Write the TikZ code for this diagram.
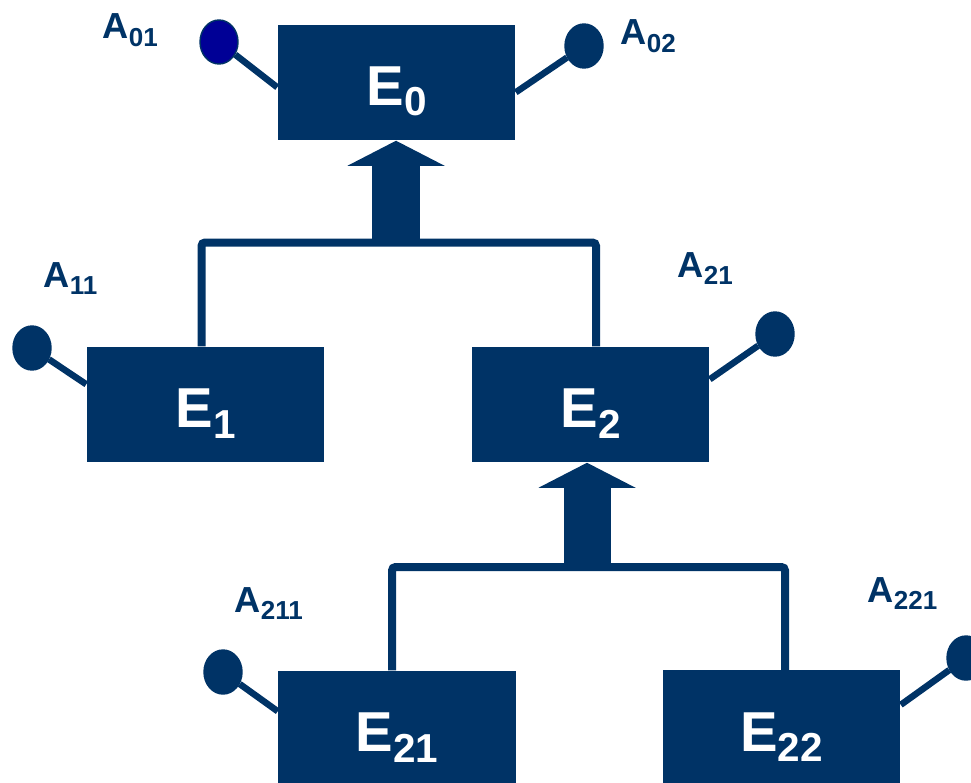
\documentclass[tikz,border=0pt]{standalone}
\usepackage{fontspec}
\setmainfont{Liberation Sans}
\usepackage{tikz}
\usetikzlibrary{arrows.meta, positioning, shapes.geometric}
\definecolor{entityblue}{RGB}{0,51,102}
\definecolor{keyblue}{RGB}{0,0,150}
% lowered indices for entity and attribute names
\newcommand{\entsub}[1]{\raisebox{-2.85pt}{\fontsize{11.5}{12}\selectfont #1}}
\newcommand{\attsub}[1]{\raisebox{-2.2pt}{\fontsize{7.4}{8}\selectfont #1}}

\begin{document}
\begin{tikzpicture}[
        x=0.01cm, y=-0.01cm,
        entity/.style={rectangle, fill=entityblue, minimum width=2.37cm, minimum height=1.15cm, inner sep=0pt, text=white, font=\fontsize{16}{18}\selectfont\bfseries, text height=16.2pt, text depth=2.85pt},
        attr/.style={ellipse, fill=entityblue, draw=entityblue, thin, minimum width=0.38cm, minimum height=0.44cm, inner sep=0pt},
        attrname/.style={anchor=base west, inner sep=0pt, text=entityblue, font=\fontsize{10.3}{12}\selectfont\bfseries},
        stem/.style={draw=entityblue, line width=0.065cm},
        link/.style={draw=entityblue, line width=0.08cm, rounded corners=1pt},
        lift/.style={draw=entityblue, line width=0.47cm, -{Triangle[length=0.25cm, width=0.96cm]}}
    ]
        \useasboundingbox (0,0) rectangle (971,782);
        \clip (0,0) rectangle (971,782);

        % entities
        \node [entity] (e0) at (396.5,82.5) {E\entsub{0}};
        \node [entity] (e1) at (205.5,404.5) {E\entsub{1}};
        \node [entity] (e2) at (590.5,404.5) {E\entsub{2}};
        \node [entity] (e21) at (397,728.5) {E\entsub{21}};
        \node [entity] (e22) at (781.5,728) {E\entsub{22}};

        % attributes
        \node [attr, fill=keyblue] (a01) at (219,42) {};
        \node [attr] (a02) at (584,46) {};
        \node [attr] (a11) at (32,348) {};
        \node [attr] (a21) at (775,334) {};
        \node [attr] (a211) at (223,672) {};
        \node [attr] (a221) at (966,658) {};

        \node [attrname] (n01) at (102,39) {A\attsub{01}};
        \node [attrname] (n02) at (620,45) {A\attsub{02}};
        \node [attrname] (n11) at (43,287) {A\attsub{11}};
        \node [attrname] (n21) at (677,277) {A\attsub{21}};
        \node [attrname] (n211) at (234,612) {A\attsub{211}};
        \node [attrname] (n221) at (867,602) {A\attsub{221}};

        \path [stem] (a01) -- ([yshift=-0.63cm]e0.north west);
        \path [stem] (a02) -- ([yshift=-0.68cm]e0.north east);
        \path [stem] (a11) -- ([yshift=-0.38cm]e1.north west);
        \path [stem] (a21) -- ([yshift=-0.33cm]e2.north east);
        \path [stem] (a211) -- ([yshift=-0.41cm]e21.north west);
        \path [stem] (a221) -- ([yshift=-0.35cm]e22.north east);

        % generalisation
        \coordinate (j0) at (396,242.5);
        \coordinate (j2) at (587,567);
        \path [link] ([xshift=-0.04cm]e1.north) |- (j0) -| ([xshift=0.055cm]e2.north);
        \path [link] ([xshift=-0.05cm]e21.north) |- (j2) -| ([xshift=0.035cm]e22.north);
        \path [lift] (j0) -- (e0.south -| j0);
        \path [lift] (j2) -- (e2.south -| j2);
    \end{tikzpicture}
\end{document}
